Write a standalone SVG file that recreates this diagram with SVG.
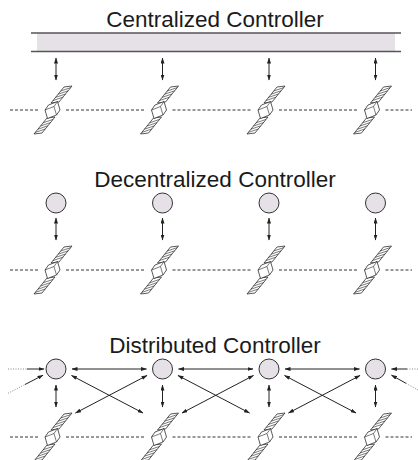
<svg xmlns="http://www.w3.org/2000/svg" xmlns:xlink="http://www.w3.org/1999/xlink" width="418" height="460" viewBox="0 0 418 460">
<style>
.t{font-family:"Liberation Sans",Arial,sans-serif;font-size:22.5px;fill:#1a1a1a;text-anchor:middle}
.ln{stroke:#222;stroke-width:1;fill:none}
.arr{marker-start:url(#ah);marker-end:url(#ah)}
.arr1{marker-end:url(#ah)}
.dash{stroke:#333;stroke-width:1;stroke-dasharray:3 2;fill:none}
.dot{stroke:#888;stroke-width:1;stroke-dasharray:1 1.5;fill:none}
.node{fill:#e5e1e6;stroke:#333;stroke-width:1}
.bar{fill:#e5e1e6}
.barln{stroke:#555;stroke-width:1.5}
.sp{fill:#fff;stroke:#222;stroke-width:0.75;stroke-linejoin:round}
.sh{stroke:#222;stroke-width:0.6;fill:none}
</style>
<defs>
<marker id="ah" viewBox="0 0 6 4" refX="5.5" refY="2" markerWidth="6" markerHeight="4" markerUnits="userSpaceOnUse" orient="auto-start-reverse">
<path d="M0,0 L6,2 L0,4 z" fill="#222"/>
</marker>
<g id="sat">
<polygon class="sp" points="-2,-7 6,-8 19,-24 11,-23"/>
<path class="sh" d="M-0.05,-9.4L9.9,-12.8M2.55,-12.6L12.5,-16M5.15,-15.8L15.1,-19.2M7.75,-19L17.7,-22.4"/>
<polygon class="sp" points="2,7 -6,8 -19,24 -11,23"/>
<path class="sh" d="M0.05,9.4L-9.9,12.8M-2.55,12.6L-12.5,16M-5.15,15.8L-15.1,19.2M-7.75,19L-17.7,22.4"/>
<polygon class="sp" points="-8,0 -4.5,-5 4.5,-8.5 7,0 3.5,5 -5.5,8.5"/>
<path class="sh" d="M-8,0L1,-3.5L3.5,5M1,-3.5L4.5,-8.5"/>
</g>
</defs>

<g id="titles">
<text id="title-centralized" class="t" x="215" y="26.5">Centralized Controller</text>
<text id="title-decentralized" class="t" x="215" y="186.5">Decentralized Controller</text>
<text id="title-distributed" class="t" x="215" y="352.5">Distributed Controller</text>
</g>

<g id="orbits">
<path class="dash" d="M10,110H38M66,110H144.5M172.5,110H251M279,110H357.5M385.5,110H412"/>
<path class="dash" d="M10,270H38M66,270H144.5M172.5,270H251M279,270H357.5M385.5,270H412"/>
<path class="dash" d="M10,437H38M66,437H144.5M172.5,437H251M279,437H357.5M385.5,437H412"/>
</g>

<g id="central-controller">
<rect class="bar" x="37" y="33" width="358" height="18.5"/>
<line class="barln" x1="31" y1="33" x2="401" y2="33"/>
<line class="barln" x1="31" y1="51.5" x2="401" y2="51.5"/>
</g>

<g id="dec-ctrl-1"><circle class="node" cx="56" cy="203" r="10"/></g>
<g id="dec-ctrl-2"><circle class="node" cx="162.5" cy="203" r="10"/></g>
<g id="dec-ctrl-3"><circle class="node" cx="269" cy="203" r="10"/></g>
<g id="dec-ctrl-4"><circle class="node" cx="375.5" cy="203" r="10"/></g>

<g id="dist-ctrl-1"><circle class="node" cx="56" cy="369" r="10"/></g>
<g id="dist-ctrl-2"><circle class="node" cx="162.5" cy="369" r="10"/></g>
<g id="dist-ctrl-3"><circle class="node" cx="269" cy="369" r="10"/></g>
<g id="dist-ctrl-4"><circle class="node" cx="375.5" cy="369" r="10"/></g>

<g id="sat-c-1"><use xlink:href="#sat" href="#sat" x="53" y="110"/></g>
<g id="sat-c-2"><use xlink:href="#sat" href="#sat" x="159.5" y="110"/></g>
<g id="sat-c-3"><use xlink:href="#sat" href="#sat" x="266" y="110"/></g>
<g id="sat-c-4"><use xlink:href="#sat" href="#sat" x="372.5" y="110"/></g>
<g id="sat-d-1"><use xlink:href="#sat" href="#sat" x="53" y="270"/></g>
<g id="sat-d-2"><use xlink:href="#sat" href="#sat" x="159.5" y="270"/></g>
<g id="sat-d-3"><use xlink:href="#sat" href="#sat" x="266" y="270"/></g>
<g id="sat-d-4"><use xlink:href="#sat" href="#sat" x="372.5" y="270"/></g>
<g id="sat-s-1"><use xlink:href="#sat" href="#sat" x="53" y="437"/></g>
<g id="sat-s-2"><use xlink:href="#sat" href="#sat" x="159.5" y="437"/></g>
<g id="sat-s-3"><use xlink:href="#sat" href="#sat" x="266" y="437"/></g>
<g id="sat-s-4"><use xlink:href="#sat" href="#sat" x="372.5" y="437"/></g>

<g id="connectors">
<line class="ln arr" x1="56" y1="58" x2="56" y2="80"/>
<line class="ln arr" x1="162.5" y1="58" x2="162.5" y2="80"/>
<line class="ln arr" x1="269" y1="58" x2="269" y2="80"/>
<line class="ln arr" x1="375.5" y1="58" x2="375.5" y2="80"/>

<line class="ln arr" x1="56" y1="218" x2="56" y2="240"/>
<line class="ln arr" x1="162.5" y1="218" x2="162.5" y2="240"/>
<line class="ln arr" x1="269" y1="218" x2="269" y2="240"/>
<line class="ln arr" x1="375.5" y1="218" x2="375.5" y2="240"/>

<line class="ln arr" x1="56" y1="385" x2="56" y2="407"/>
<line class="ln arr" x1="162.5" y1="385" x2="162.5" y2="407"/>
<line class="ln arr" x1="269" y1="385" x2="269" y2="407"/>
<line class="ln arr" x1="375.5" y1="385" x2="375.5" y2="407"/>

<line class="ln arr" x1="72" y1="369" x2="146.5" y2="369"/>
<line class="ln arr" x1="178.5" y1="369" x2="253" y2="369"/>
<line class="ln arr" x1="285" y1="369" x2="359.5" y2="369"/>

<line class="ln arr" x1="71.5" y1="375.5" x2="143" y2="413"/>
<line class="ln arr" x1="147" y1="375.5" x2="75.5" y2="413"/>
<line class="ln arr" x1="178" y1="375.5" x2="249.5" y2="413"/>
<line class="ln arr" x1="253.5" y1="375.5" x2="182" y2="413"/>
<line class="ln arr" x1="284.5" y1="375.5" x2="356" y2="413"/>
<line class="ln arr" x1="360" y1="375.5" x2="288.5" y2="413"/>

<line class="dot" x1="8" y1="369" x2="27" y2="369"/>
<line class="ln arr1" x1="27" y1="369" x2="44" y2="369"/>
<line class="dot" x1="8" y1="393.3" x2="25" y2="384.5"/>
<line class="ln arr1" x1="25" y1="384.5" x2="43" y2="375.2"/>
<line class="dot" x1="418" y1="369" x2="407" y2="369"/>
<line class="ln arr1" x1="407" y1="369" x2="391.5" y2="369"/>
<line class="dot" x1="418" y1="390" x2="406" y2="383.3"/>
<line class="ln arr1" x1="406" y1="383.3" x2="391.5" y2="375.2"/>
</g>
</svg>
